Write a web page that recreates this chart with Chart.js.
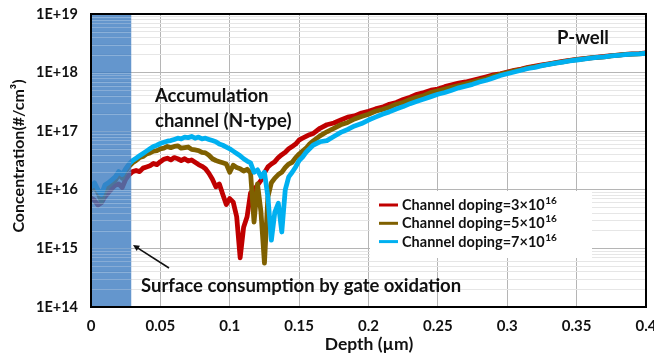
<!DOCTYPE html>
<html><head><meta charset="utf-8">
<script src="https://cdn.jsdelivr.net/npm/chart.js@4"></script>
<style>html,body{margin:0;padding:0;background:#fff;}canvas{display:block;}</style>
</head><body>
<canvas id="c" width="654" height="359"></canvas>
<script>
// Depth (µm)
const depth = [0,0.0025,0.005,0.0075,0.01,0.0125,0.015,0.0175,0.02,0.0225,0.025,0.0275,0.03,0.0325,0.035,0.0375,0.04,0.0425,0.045,0.0475,0.05,0.0525,0.055,0.0575,0.06,0.0625,0.065,0.0675,0.07,0.0725,0.075,0.0775,0.08,0.0825,0.085,0.0875,0.09,0.0925,0.095,0.0975,0.1,0.1025,0.105,0.1075,0.11,0.1125,0.115,0.1175,0.12,0.1225,0.125,0.1275,0.13,0.1325,0.135,0.1375,0.14,0.1425,0.145,0.1475,0.15,0.1525,0.155,0.1575,0.16,
0.165,0.17,0.175,0.18,0.185,0.19,0.195,0.2,0.205,0.21,0.215,0.22,0.225,0.23,0.235,0.24,0.245,0.25,0.255,0.26,0.265,0.27,0.275,0.28,0.285,0.29,0.295,0.3,0.305,0.31,0.315,0.32,0.325,0.33,0.335,0.34,0.345,0.35,0.355,0.36,0.365,0.37,0.375,0.38,0.385,0.39,0.395,0.4];

// log10 of concentration (#/cm3)
const dop3Log = [15.86,15.82,15.74,15.78,15.88,15.95,16.02,16.08,16.10,16.04,16.18,16.26,16.31,16.33,16.31,16.37,16.39,16.41,16.45,16.43,16.48,16.52,16.54,16.51,16.55,16.53,16.50,16.53,16.49,16.51,16.47,16.43,16.40,16.36,16.28,16.18,16.05,16.10,15.92,15.75,15.85,15.79,15.54,14.84,15.36,15.54,15.95,16.00,16.08,16.16,16.29,16.39,16.44,16.48,16.55,16.60,16.64,16.70,16.74,16.78,16.85,16.88,16.91,16.94,16.96,
17.05,17.11,17.14,17.19,17.24,17.26,17.31,17.34,17.38,17.41,17.46,17.49,17.54,17.58,17.63,17.66,17.70,17.72,17.76,17.79,17.82,17.84,17.87,17.90,17.93,17.96,17.98,18.01,18.04,18.06,18.09,18.11,18.13,18.15,18.17,18.19,18.21,18.225,18.24,18.25,18.265,18.275,18.29,18.30,18.31,18.32,18.325,18.335];

const dop5Log = [16.00,16.05,15.95,15.80,15.98,16.06,16.12,16.16,16.26,16.20,16.32,16.40,16.46,16.50,16.55,16.57,16.61,16.63,16.66,16.67,16.70,16.71,16.74,16.72,16.74,16.75,16.71,16.72,16.73,16.69,16.68,16.67,16.64,16.63,16.59,16.53,16.50,16.48,16.46,16.44,16.30,16.42,16.38,16.36,16.32,16.35,16.29,15.45,16.10,15.62,14.75,15.88,16.12,16.20,16.26,16.30,16.38,16.44,16.47,16.55,16.61,16.66,16.71,16.78,16.83,
16.92,16.99,17.05,17.11,17.15,17.21,17.25,17.29,17.34,17.37,17.41,17.46,17.49,17.54,17.58,17.61,17.66,17.69,17.72,17.75,17.78,17.81,17.84,17.87,17.90,17.94,17.97,18.00,18.03,18.05,18.08,18.10,18.125,18.145,18.165,18.185,18.205,18.22,18.235,18.25,18.26,18.27,18.285,18.30,18.31,18.315,18.32,18.33];

const dop7Log = [16.05,16.12,16.00,15.92,16.08,16.12,16.17,16.22,16.31,16.26,16.36,16.44,16.50,16.54,16.58,16.62,16.66,16.70,16.74,16.76,16.79,16.81,16.83,16.84,16.86,16.88,16.87,16.90,16.89,16.91,16.88,16.90,16.87,16.88,16.86,16.84,16.82,16.78,16.76,16.73,16.70,16.66,16.62,16.58,16.53,16.49,16.46,16.30,16.34,16.22,16.30,15.88,15.14,15.62,15.77,15.28,16.00,16.22,16.30,16.39,16.50,16.56,16.64,16.70,16.76,
16.82,16.84,16.91,16.98,17.03,17.09,17.13,17.19,17.24,17.29,17.33,17.38,17.42,17.47,17.51,17.55,17.59,17.63,17.66,17.70,17.74,17.77,17.80,17.84,17.87,17.91,17.95,17.98,18.01,18.04,18.07,18.09,18.12,18.14,18.16,18.18,18.20,18.215,18.23,18.245,18.26,18.27,18.285,18.295,18.305,18.315,18.32,18.33];

const seriesLabels = ['Channel doping=3×10', 'Channel doping=5×10', 'Channel doping=7×10'];
const seriesSup = ['16', '16', '16'];
const seriesColors = ['#c00000', '#7f6000', '#00b0f0'];
const xTickLabels = ['0','0.05','0.1','0.15','0.2','0.25','0.3','0.35','0.4'];
const xTickValues = [0,0.05,0.1,0.15,0.2,0.25,0.3,0.35,0.4];
const yDecades = [14,15,16,17,18,19];
const yTickLabels = ['1E+14','1E+15','1E+16','1E+17','1E+18','1E+19'];
const shadeDepth = 0.029;

const FONT = 'Lato, "Open Sans", sans-serif';

function pts(logs){ return logs.map((v,i)=>({x: depth[i], y: Math.pow(10, v)})); }

const overlay = {
  id: 'overlay',
  afterDatasetsDraw(chart){
    const {ctx, chartArea:a, scales:{x, y}} = chart;
    ctx.save();
    const sx = x.getPixelForValue(shadeDepth);
    ctx.fillStyle = 'rgba(61,124,193,0.8)';
    ctx.fillRect(a.left, a.top, sx - a.left, a.bottom - a.top);
    ctx.strokeStyle = 'rgba(255,255,255,0.25)';
    ctx.lineWidth = 1;
    y.ticks.forEach(t => {
      const py = Math.round(y.getPixelForValue(t.value)) + 0.5;
      ctx.beginPath(); ctx.moveTo(a.left, py); ctx.lineTo(sx, py); ctx.stroke();
    });

    // legend
    ctx.fillStyle = '#fff';
    ctx.fillRect(370, 191, 222, 67);
    ctx.textBaseline = 'alphabetic';
    seriesLabels.forEach((lab, i) => {
      const cy = 205 + i * 18.3;
      ctx.strokeStyle = seriesColors[i];
      ctx.lineWidth = 3;
      ctx.beginPath(); ctx.moveTo(379, cy); ctx.lineTo(398, cy); ctx.stroke();
      ctx.fillStyle = '#111';
      ctx.font = 'bold 14.5px ' + FONT;
      ctx.fillText(lab, 402, cy + 5);
      const w = ctx.measureText(lab).width;
      ctx.font = 'bold 10px ' + FONT;
      ctx.fillText(seriesSup[i], 402 + w + 0.5, cy - 1);
    });

    // annotations
    ctx.fillStyle = '#111';
    ctx.font = 'bold 18.5px ' + FONT;
    ctx.fillText('Accumulation', 155, 102);
    ctx.fillText('channel (N-type)', 155, 127);
    ctx.fillText('P-well', 557, 44);
    ctx.fillText('Surface consumption by gate oxidation', 141, 292);

    // arrow
    ctx.strokeStyle = '#111';
    ctx.lineWidth = 1.6;
    const x1 = 169, y1 = 268, x2 = 133, y2 = 245;
    const ang = Math.atan2(y2 - y1, x2 - x1);
    ctx.beginPath(); ctx.moveTo(x1, y1); ctx.lineTo(x2 - 3*Math.cos(ang), y2 - 3*Math.sin(ang)); ctx.stroke();
    ctx.beginPath();
    ctx.moveTo(x2, y2);
    ctx.lineTo(x2 - 7*Math.cos(ang - 0.45), y2 - 7*Math.sin(ang - 0.45));
    ctx.lineTo(x2 - 7*Math.cos(ang + 0.45), y2 - 7*Math.sin(ang + 0.45));
    ctx.closePath(); ctx.fillStyle = '#111'; ctx.fill();

    // axis titles
    ctx.textAlign = 'center';
    ctx.font = 'bold 17.5px ' + FONT;
    ctx.fillText('Depth (µm)', 369, 350);
    ctx.save();
    ctx.translate(24, 156);
    ctx.rotate(-Math.PI / 2);
    ctx.font = 'bold 16px ' + FONT;
    ctx.fillText('Concentration(#/cm³)', 0, 0);
    ctx.restore();
    ctx.restore();
  },
  afterDraw(chart){
    const {ctx, chartArea:a} = chart;
    ctx.save();
    ctx.strokeStyle = '#000';
    ctx.lineWidth = 2;
    ctx.strokeRect(a.left, a.top, a.right - a.left, a.bottom - a.top);
    ctx.restore();
  }
};

new Chart(document.getElementById('c'), {
  type: 'line',
  data: {
    datasets: [
      {label: seriesLabels[0], data: pts(dop3Log), borderColor: seriesColors[0], order: 3},
      {label: seriesLabels[1], data: pts(dop5Log), borderColor: seriesColors[1], order: 2},
      {label: seriesLabels[2], data: pts(dop7Log), borderColor: seriesColors[2], order: 1}
    ].map(d => Object.assign(d, {borderWidth: 4.8, pointRadius: 0, tension: 0, fill: false, borderJoinStyle: 'round', borderCapStyle: 'round'}))
  },
  options: {
    responsive: false,
    animation: false,
    events: [],
    layout: {padding: {left: 0, right: 8, top: 14, bottom: 0}},
    plugins: {legend: {display: false}, tooltip: {enabled: false}},
    scales: {
      x: {
        type: 'linear', min: 0, max: 0.4,
        afterBuildTicks: s => { s.ticks = xTickValues.map(v => ({value: v})); },
        afterFit: s => { s.height = 52; s.paddingLeft = 0; s.paddingRight = 0; },
        ticks: {
          autoSkip: false, maxRotation: 0, padding: 10, color: '#111',
          font: {family: FONT, size: 15, weight: 'bold'},
          callback: (v, i) => xTickLabels[i]
        },
        grid: {color: '#b5b5b5', lineWidth: 1, drawTicks: false},
        border: {display: false}
      },
      y: {
        type: 'logarithmic', min: 1e14, max: 1e19,
        afterBuildTicks: s => {
          const t = [];
          for (let k = 0; k < yDecades.length - 1; k++) {
            for (let m = 1; m <= 9; m++) t.push({value: m * Math.pow(10, yDecades[k]), major: m === 1, lab: m === 1 ? yTickLabels[k] : ''});
          }
          t.push({value: Math.pow(10, yDecades[yDecades.length - 1]), major: true, lab: yTickLabels[yTickLabels.length - 1]});
          s.ticks = t;
        },
        afterFit: s => { s.width = 91; s.paddingTop = 0; s.paddingBottom = 0; },
        ticks: {
          autoSkip: false, padding: 13, color: '#111',
          font: {family: FONT, size: 14.5, weight: 'bold'},
          callback: function(v, i, ticks) { return ticks[i].lab; }
        },
        grid: {
          drawTicks: false,
          color: c => (c.tick && c.tick.major) ? '#b5b5b5' : '#e6e6e6',
          lineWidth: 1
        },
        border: {display: false}
      }
    }
  },
  plugins: [overlay]
});
</script>
</body></html>
